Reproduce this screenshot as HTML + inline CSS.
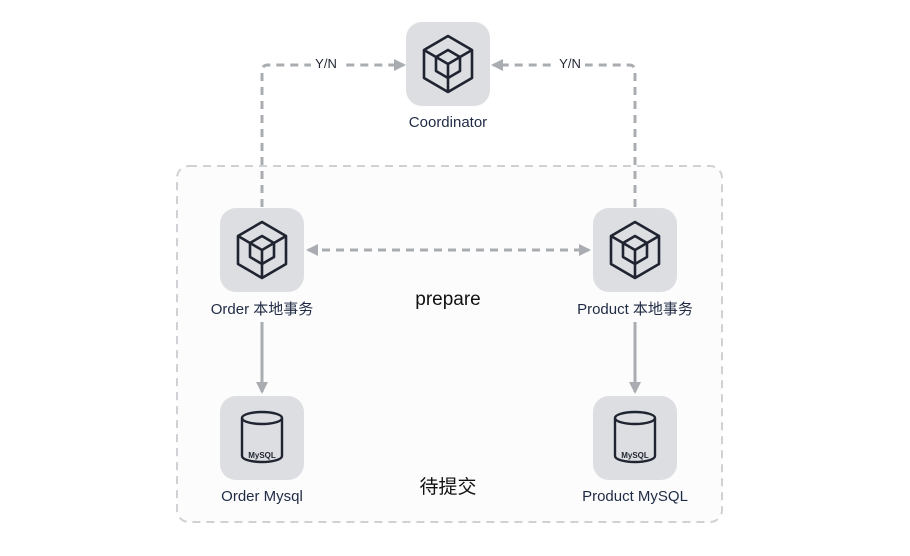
<!DOCTYPE html>
<html><head><meta charset="utf-8"><style>
body{margin:0;background:#fff;}
svg text{font-family:"Liberation Sans","Noto Sans CJK SC",sans-serif;}
</style></head><body>
<svg width="910" height="551" viewBox="0 0 910 551" xmlns="http://www.w3.org/2000/svg">
<defs>
<g id="cube" fill="none" stroke="#1f2430" stroke-width="2.6" stroke-linejoin="round">
<path d="M42 14 L66 28 L66 56 L42 70 L18 56 L18 28 Z"/>
<path d="M42 28 L54 35 L54 49 L42 56 L30 49 L30 35 Z"/>
<path d="M30 35 L42 42 L54 35 M42 42 L42 56 M18 28 L30 35 M66 28 L54 35 M42 56 L42 70"/>
</g>
<g id="db" fill="none" stroke="#1f2430" stroke-width="2.4">
<ellipse cx="42" cy="22" rx="20" ry="6"/>
<path d="M22 22 L22 60 A20 6 0 0 0 62 60 L62 22"/>
</g>
<marker id="ah" markerWidth="12" markerHeight="12" refX="10" refY="6" orient="auto" markerUnits="userSpaceOnUse">
<path d="M0 0 L12 6 L0 12 Z" fill="#a9acb0"/></marker>
<marker id="ahs" markerWidth="12" markerHeight="12" refX="2" refY="6" orient="auto" markerUnits="userSpaceOnUse">
<path d="M12 0 L0 6 L12 12 Z" fill="#a9acb0"/></marker>
</defs>
<rect x="177" y="166" width="545" height="356" rx="12" fill="#fcfcfc" stroke="#cfd1d4" stroke-width="2" stroke-dasharray="8 6"/>
<g stroke="#a9acb0" stroke-width="3" fill="none">
<path d="M262 207 L262 71 Q262 65 268 65 L404 65" stroke-dasharray="8 6" marker-end="url(#ah)"/>
<path d="M635 207 L635 71 Q635 65 629 65 L493 65" stroke-dasharray="8 6" marker-end="url(#ah)"/>
<path d="M308 250 L589 250" stroke-dasharray="8 6" marker-start="url(#ahs)" marker-end="url(#ah)"/>
<path d="M262 322 L262 392" marker-end="url(#ah)"/>
<path d="M635 322 L635 392" marker-end="url(#ah)"/>
</g>
<rect x="311" y="55" width="30" height="18" fill="#fff"/>
<rect x="555" y="55" width="30" height="18" fill="#fff"/>
<text x="326" y="68" font-size="13" fill="#1f2430" text-anchor="middle">Y/N</text>
<text x="570" y="68" font-size="13" fill="#1f2430" text-anchor="middle">Y/N</text>

<rect x="406" y="22" width="84" height="84" rx="16" fill="#dcdee1"/>
<use href="#cube" x="406" y="22"/>
<text x="448" y="127" font-size="15" fill="#1f2a44" text-anchor="middle">Coordinator</text>

<rect x="220" y="208" width="84" height="84" rx="16" fill="#dcdee1"/>
<use href="#cube" x="220" y="208"/>
<text x="262" y="314" font-size="15" fill="#1f2a44" text-anchor="middle">Order 本地事务</text>

<rect x="593" y="208" width="84" height="84" rx="16" fill="#dcdee1"/>
<use href="#cube" x="593" y="208"/>
<text x="635" y="314" font-size="15" fill="#1f2a44" text-anchor="middle">Product 本地事务</text>

<rect x="220" y="396" width="84" height="84" rx="16" fill="#dcdee1"/>
<use href="#db" x="220" y="396"/>
<text x="262" y="458" font-size="8" font-weight="bold" fill="#1f2430" text-anchor="middle">MySQL</text>
<text x="262" y="501" font-size="15" fill="#1f2a44" text-anchor="middle">Order Mysql</text>

<rect x="593" y="396" width="84" height="84" rx="16" fill="#dcdee1"/>
<use href="#db" x="593" y="396"/>
<text x="635" y="458" font-size="8" font-weight="bold" fill="#1f2430" text-anchor="middle">MySQL</text>
<text x="635" y="501" font-size="15" fill="#1f2a44" text-anchor="middle">Product MySQL</text>

<text x="448" y="305" font-size="19" fill="#111" text-anchor="middle">prepare</text>
<text x="448" y="493" font-size="19" fill="#111" text-anchor="middle">待提交</text>
</svg>
</body></html>
